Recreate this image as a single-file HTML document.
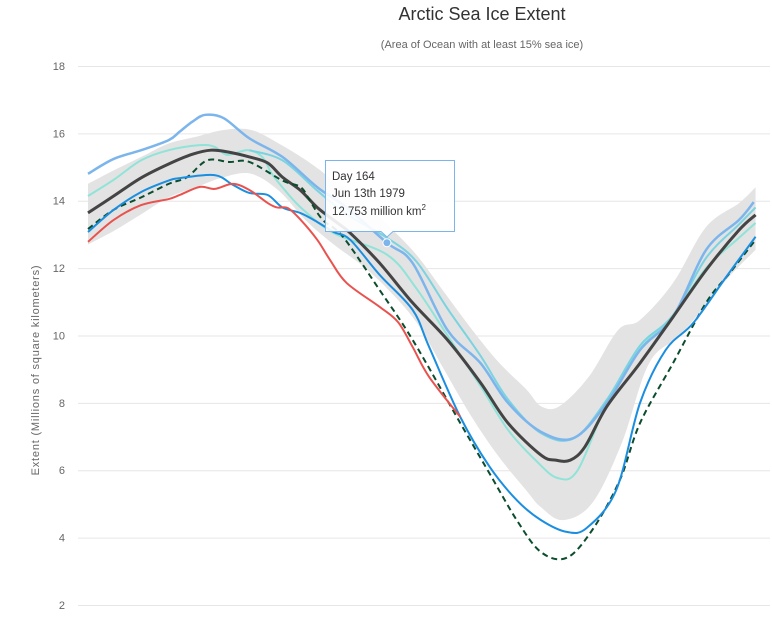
<!DOCTYPE html>
<html><head><meta charset="utf-8"><style>
body{margin:0;background:#fff;font-family:"Liberation Sans",sans-serif}
svg{display:block}
</style></head><body>
<svg id="chart" width="772" height="635" xmlns="http://www.w3.org/2000/svg">
<text x="482" y="20" text-anchor="middle" font-size="18" fill="#333">Arctic Sea Ice Extent</text>
<text x="482" y="48" text-anchor="middle" font-size="11" fill="#666">(Area of Ocean with at least 15% sea ice)</text>
<text transform="translate(39,370) rotate(-90)" text-anchor="middle" font-size="11" fill="#666" letter-spacing="0.8">Extent (Millions of square kilometers)</text>
<g id="grid"></g><g id="series"></g>
<g>
<path d="M325.5,160.5 H454.5 V231.5 H393 L387,237 L381,231.5 H325.5 Z" fill="#fff" fill-opacity="0.9" stroke="#7cb5ec" stroke-width="1"/>
<text x="332" y="180" font-size="11.5" fill="#333">Day 164</text>
<text x="332" y="197" font-size="11.5" fill="#333">Jun 13th 1979</text>
<text x="332" y="215" font-size="11.5" fill="#333">12.753 million km<tspan dy="-5" font-size="8">2</tspan></text>
</g>
</svg>
<script>
const upperDays=[1,15,30,45,60,75,90,105,120,135,150,164,180,195,210,225,240,248,258,274,290,302,320,338,356,365];
const bandUpper=[14.5,14.9,15.3,15.7,15.9,16.1,16.1,15.7,15.2,14.6,14.0,13.3,12.4,11.3,10.2,9.2,8.4,7.9,7.9,8.77,10.16,10.46,11.56,13.22,13.93,14.4];
const lowerDays=[1,15,30,45,60,75,90,105,120,135,150,164,180,195,210,225,240,248,260,276,292,307,325,349,365];
const bandLower=[12.7,13.1,13.6,14.1,14.4,14.7,14.8,14.3,13.4,12.7,12.1,11.4,10.4,9.0,7.6,6.4,5.4,4.9,4.52,5.03,6.8,9.18,10.07,11.65,12.54];
const medianDays=[1,15,30,45,58,68,77,89,99,107,117,126,137,144,160,178,197,215,230,248,256,264,272,284,302,320,338,356,365];
const median=[13.64,14.14,14.68,15.09,15.38,15.5,15.45,15.3,15.12,14.7,14.3,13.8,13.34,13.04,12.15,10.97,9.87,8.6,7.4,6.45,6.3,6.3,6.7,7.9,9.18,10.55,11.94,13.13,13.58];
const y1979Days=[1,15,30,45,51,58,65,75,89,107,126,142,164,178,197,215,230,248,266,284,302,320,338,356,364];
const y1979=[14.8,15.24,15.5,15.8,16.05,16.35,16.55,16.45,15.85,15.3,14.4,13.8,12.75,12.15,10.16,9.18,8.0,7.14,6.96,8.0,9.57,10.55,12.54,13.43,13.96];
const tealADays=[1,15,30,45,62,70,77,88,96,101,107,117,135,164,180,197,215,230,245,257,268,284,302,320,338,356,365];
const tealA=[14.14,14.62,15.2,15.5,15.65,15.6,15.36,15.5,15.3,14.82,14.4,13.8,13.04,12.4,11.4,10.0,8.5,7.2,6.3,5.77,6.0,8.0,9.6,10.6,12.0,12.9,13.34];
const tealBDays=[89,107,126,142,164,180,197,215,230,248,266,284,302,320,338,356,365];
const tealB=[15.5,15.2,14.3,13.6,12.9,12.2,10.8,9.4,8.1,7.1,6.95,8.1,9.7,10.6,12.3,13.3,13.8];
const blueDays=[1,15,30,45,51,70,80,89,99,107,117,126,135,144,160,178,187,204,220,235,248,262,273,289,302,316,331,349,365];
const blue=[13.07,13.73,14.26,14.6,14.67,14.76,14.47,14.23,14.17,13.8,13.63,13.37,13.07,12.84,11.8,10.76,9.66,7.58,6.1,5.1,4.52,4.17,4.29,5.41,8.0,9.57,10.37,11.74,12.93];
const dashedDays=[1,15,30,45,55,66,78,89,107,117,122,129,140,160,178,204,220,235,248,262,276,291,302,320,338,351,365];
const dashed=[13.16,13.73,14.1,14.5,14.7,15.2,15.15,15.15,14.6,14.4,14.0,13.43,12.93,11.35,9.87,7.4,5.9,4.5,3.57,3.4,4.23,5.71,7.4,9.18,10.97,11.86,12.84];
const redDays=[1,15,30,45,51,62,70,80,89,99,104,110,117,126,133,142,160,170,178,187,204];
const red=[12.78,13.43,13.87,14.05,14.17,14.41,14.35,14.5,14.32,13.93,13.8,13.78,13.43,12.84,12.24,11.56,10.85,10.4,9.66,8.77,7.58];
const yTicks=[2,4,6,8,10,12,14,16,18];
const tipDay=164, tipVal=12.753;

const NS="http://www.w3.org/2000/svg";
const X=d=>88+(d-1)*1.834;
const Y=v=>605-(v-2)*33.69;
function el(t,a,p){const e=document.createElementNS(NS,t);for(const k in a)e.setAttribute(k,a[k]);p.appendChild(e);return e;}
const grid=document.getElementById('grid'),ser=document.getElementById('series');
yTicks.forEach(t=>{
  const l=el('line',{x1:78,x2:770,y1:Y(t)+0.5,y2:Y(t)+0.5,stroke:'#e6e6e6','stroke-width':1},grid);
  
  
  const tx=el('text',{x:65,y:Y(t)+4,'text-anchor':'end','font-size':11,fill:'#666'},grid);
  tx.textContent=t;
  
  
});
function segs(pts){
  let d='';
  for(let i=0;i<pts.length-1;i++){
    const p0=pts[i-1]||pts[i],p1=pts[i],p2=pts[i+1],p3=pts[i+2]||p2;
    const c1=[p1[0]+(p2[0]-p0[0])/6,p1[1]+(p2[1]-p0[1])/6],c2=[p2[0]-(p3[0]-p1[0])/6,p2[1]-(p3[1]-p1[1])/6];
    d+=' C'+c1+' '+c2+' '+p2;
  }
  return d;
}
function smooth(pts){return 'M'+pts[0]+segs(pts);}
const up=upperDays.map((d,i)=>[X(d),Y(bandUpper[i])]);
const lo=lowerDays.map((d,i)=>[X(d),Y(bandLower[i])]).reverse();
const band=el('path',{d:smooth(up)+' L'+lo[0]+segs(lo)+' Z',fill:'#e3e3e3'},ser);


function line(ds,vals,color,w,name,dash){
  const p=el('path',{d:smooth(ds.map((d,i)=>[X(d),Y(vals[i])])),fill:'none',stroke:color,'stroke-width':w,'stroke-linejoin':'round'},ser);
  if(dash)p.setAttribute('stroke-dasharray',dash);
  
  
}
line(tealADays,tealA,'#8fe3d8',2,'series-teal-a');
line(tealBDays,tealB,'#7ad3e0',2,'series-teal-b');
line(y1979Days,y1979,'#7cb5ec',2.5,'series-1979');
line(medianDays,median,'#444',3,'series-median');
line(dashedDays,dashed,'#0b4d2e',2,'series-record-low','6,4');
line(blueDays,blue,'#1b8ee0',2,'series-blue');
line(redDays,red,'#e8534f',2,'series-current-year');
const pt=el('circle',{cx:X(tipDay),cy:Y(tipVal),r:4,fill:'#7cb5ec',stroke:'#fff','stroke-width':1},ser);


</script>
</body></html>
